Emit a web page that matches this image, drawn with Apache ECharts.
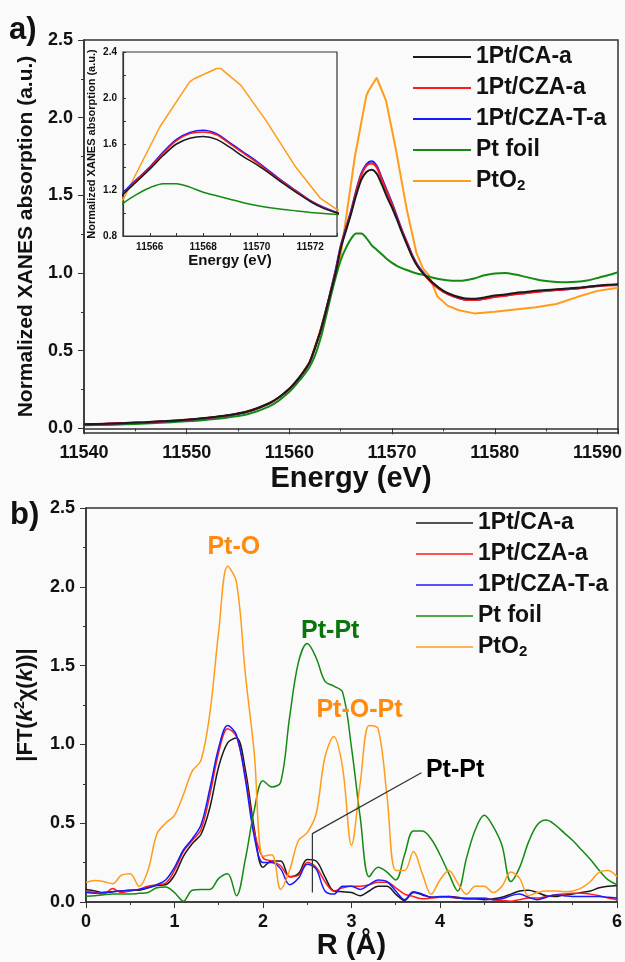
<!DOCTYPE html>
<html>
<head>
<meta charset="utf-8">
<script src="https://cdn.jsdelivr.net/npm/echarts@6/dist/echarts.min.js"></script>
<style>
    html, body {
        margin: 0;
        padding: 0;
        background: #fafafa;
    }
    #chart {
        width: 625px;
        height: 962px;
    }
</style>
</head>
<body>
<div id="chart"></div>
<script>
// ---- a) XANES ----
const names = ['1Pt/CA-a', '1Pt/CZA-a', '1Pt/CZA-T-a', 'Pt foil', 'PtO2'];
const colors = ['#1a1a1a', '#ff1a1a', '#1a1aff', '#148a14', '#ff9c1a'];

const energy = [11540, 11542, 11544, 11546, 11548, 11550, 11552, 11554, 11556, 11558, 11559,
    11560, 11560.5, 11561, 11561.5, 11562, 11562.5, 11563, 11563.5, 11564, 11564.5,
    11565, 11565.5, 11566, 11566.5, 11567, 11567.5, 11568, 11568.5, 11569, 11569.5,
    11570, 11570.5, 11571, 11571.5, 11572, 11572.5, 11573,
    11574, 11575, 11576, 11577, 11578, 11579, 11580, 11581, 11582, 11583, 11584,
    11585, 11586, 11587, 11588, 11589, 11590, 11591, 11592];

const xanesCA = [0.026, 0.03, 0.034, 0.04, 0.047, 0.056, 0.068, 0.084, 0.11, 0.16, 0.2,
    0.255, 0.29, 0.33, 0.375, 0.43, 0.52, 0.62, 0.74, 0.87, 1.0,
    1.16, 1.27, 1.38, 1.50, 1.60, 1.65, 1.665, 1.64, 1.57, 1.49,
    1.42, 1.34, 1.255, 1.175, 1.10, 1.04, 1.0,
    0.935, 0.885, 0.855, 0.838, 0.835, 0.843, 0.855, 0.862, 0.872, 0.878, 0.885,
    0.89, 0.895, 0.9, 0.905, 0.912, 0.918, 0.924, 0.928];
const xanesCZA = [0.025, 0.029, 0.034, 0.039, 0.046, 0.055, 0.067, 0.083, 0.109, 0.16, 0.2,
    0.255, 0.29, 0.33, 0.375, 0.43, 0.52, 0.62, 0.74, 0.875, 1.01,
    1.165, 1.28, 1.39, 1.52, 1.63, 1.69, 1.705, 1.68, 1.60, 1.52,
    1.44, 1.35, 1.265, 1.185, 1.105, 1.045, 1.0,
    0.928, 0.878, 0.848, 0.83, 0.826, 0.833, 0.845, 0.853, 0.863, 0.87, 0.878,
    0.884, 0.89, 0.895, 0.9, 0.908, 0.915, 0.92, 0.923];
const xanesCZAT = [0.025, 0.028, 0.033, 0.038, 0.045, 0.054, 0.066, 0.082, 0.108, 0.16, 0.2,
    0.255, 0.29, 0.33, 0.375, 0.43, 0.52, 0.62, 0.745, 0.88, 1.02,
    1.175, 1.29, 1.40, 1.53, 1.64, 1.70, 1.72, 1.69, 1.61, 1.53,
    1.45, 1.36, 1.27, 1.19, 1.11, 1.05, 1.005,
    0.93, 0.88, 0.85, 0.83, 0.826, 0.835, 0.848, 0.855, 0.865, 0.872, 0.88,
    0.886, 0.89, 0.895, 0.9, 0.91, 0.918, 0.922, 0.925];
const xanesFoil = [0.02, 0.022, 0.026, 0.031, 0.037, 0.045, 0.056, 0.07, 0.092, 0.14, 0.18,
    0.235, 0.27, 0.31, 0.35, 0.40, 0.47, 0.57, 0.70, 0.84, 0.97,
    1.083, 1.16, 1.22, 1.255, 1.255, 1.225, 1.18, 1.15, 1.12, 1.09,
    1.065, 1.045, 1.03, 1.018, 1.005, 0.995, 0.988,
    0.97, 0.957, 0.95, 0.952, 0.965, 0.985, 0.997, 1.0, 0.99, 0.975, 0.96,
    0.948, 0.942, 0.94, 0.943, 0.952, 0.968, 0.985, 1.005];

// PtO2 is sampled more coarsely (polyline look)
const energyPtO2 = [11540, 11545, 11550, 11553, 11555, 11557, 11558, 11559, 11560, 11561,
    11562, 11563, 11564, 11565, 11566.38, 11567.49, 11567.68, 11568.5, 11568.65, 11569.41,
    11570.33, 11571.44, 11572.37, 11573, 11573.6, 11574.4, 11575.4, 11576.5, 11578, 11580,
    11582, 11584, 11586, 11588, 11590, 11592];
const xanesPtO2 = [0.025, 0.034, 0.054, 0.072, 0.095, 0.13, 0.16, 0.2, 0.255, 0.33,
    0.43, 0.63, 0.87, 1.117, 1.75, 2.14, 2.17, 2.257, 2.257, 2.11,
    1.81, 1.405, 1.13, 1.03, 0.985, 0.85, 0.79, 0.76, 0.74, 0.75,
    0.765, 0.78, 0.8, 0.845, 0.885, 0.905];

// ---- b) FT-EXAFS ----
const rValues = [0, 0.1, 0.2, 0.3, 0.4, 0.5, 0.6, 0.7, 0.8, 0.9, 1.0, 1.1, 1.2, 1.3, 1.4, 1.5,
    1.6, 1.7, 1.8, 1.9, 2.0, 2.1, 2.2, 2.3, 2.4, 2.5, 2.6, 2.7, 2.8, 2.9, 3.0, 3.1, 3.2,
    3.3, 3.4, 3.5, 3.6, 3.7, 3.8, 3.9, 4.0, 4.1, 4.2, 4.3, 4.4, 4.5, 4.6, 4.7, 4.8, 4.9,
    5.0, 5.1, 5.2, 5.3, 5.4, 5.5, 5.6, 5.7, 5.8, 5.9, 6.0];

const ftCA = [0.08, 0.07, 0.06, 0.065, 0.07, 0.075, 0.075, 0.09, 0.105, 0.11, 0.17, 0.29,
    0.37, 0.43, 0.6, 0.86, 1.01, 1.04, 0.84, 0.47, 0.22, 0.26, 0.26, 0.16, 0.18, 0.27,
    0.26, 0.16, 0.07, 0.065, 0.06, 0.04, 0.07, 0.1, 0.1, 0.05, 0.01, 0.06, 0.045, 0.03,
    0.03, 0.035, 0.03, 0.02, 0.02, 0.015, 0.02, 0.03, 0.05, 0.07, 0.075, 0.06, 0.04,
    0.035, 0.045, 0.05, 0.06, 0.07, 0.09, 0.1, 0.105];
const ftCZA = [0.07, 0.06, 0.05, 0.085, 0.06, 0.07, 0.08, 0.1, 0.11, 0.12, 0.2, 0.32,
    0.39, 0.46, 0.68, 0.95, 1.1, 1.05, 0.8, 0.45, 0.28, 0.26, 0.23, 0.16, 0.17, 0.25,
    0.22, 0.13, 0.07, 0.09, 0.1, 0.1, 0.11, 0.125, 0.125, 0.09, 0.05, 0.035, 0.02, 0.025,
    0.03, 0.03, 0.025, 0.025, 0.025, 0.025, 0.015, 0.01, 0.005, 0.015, 0.025, 0.025,
    0.035, 0.045, 0.05, 0.055, 0.055, 0.05, 0.04, 0.025, 0.015];
const ftCZAT = [0.06, 0.055, 0.06, 0.065, 0.07, 0.075, 0.08, 0.09, 0.11, 0.14, 0.22, 0.33,
    0.4, 0.49, 0.72, 0.98, 1.12, 1.06, 0.78, 0.42, 0.25, 0.25, 0.21, 0.11, 0.15, 0.24,
    0.21, 0.07, 0.05, 0.1, 0.1, 0.08, 0.11, 0.14, 0.13, 0.07, 0.015, 0.065, 0.05, 0.03,
    0.035, 0.035, 0.025, 0.02, 0.02, 0.02, 0.015, 0.02, 0.04, 0.05, 0.03, 0.015, 0.03,
    0.045, 0.04, 0.035, 0.035, 0.035, 0.035, 0.03, 0.025];
const ftFoil = [0.036, 0.04, 0.046, 0.05, 0.05, 0.05, 0.055, 0.06, 0.09, 0.095, 0.06, 0.005,
    0.075, 0.08, 0.08, 0.15, 0.18, 0.04, 0.27, 0.58, 0.77, 0.73, 0.76, 1.17, 1.52, 1.64,
    1.55, 1.4, 1.37, 1.33, 0.98, 0.53, 0.16, 0.22, 0.19, 0.14, 0.3, 0.45, 0.45, 0.4,
    0.3, 0.18, 0.07, 0.28, 0.46, 0.55, 0.48, 0.36, 0.13, 0.22, 0.38, 0.49, 0.52, 0.49,
    0.44, 0.39, 0.33, 0.27, 0.2, 0.14, 0.11];
const ftPtO2 = [0.125, 0.137, 0.13, 0.116, 0.17, 0.18, 0.1, 0.2, 0.43, 0.5, 0.55, 0.68,
    0.83, 0.9, 1.2, 1.72, 2.13, 2.03, 1.45, 0.95, 0.29, 0.3, 0.08, 0.2, 0.39, 0.44, 0.56,
    0.92, 1.05, 0.85, 0.36, 0.76, 1.12, 1.1, 0.68, 0.2, 0.2, 0.32, 0.18, 0.05, 0.14, 0.2,
    0.12, 0.05, 0.1, 0.1, 0.06, 0.1, 0.19, 0.15, 0.04, 0.06, 0.07, 0.07, 0.065, 0.07,
    0.09, 0.13, 0.19, 0.2, 0.16];

// peak labels [text, R, value, colour]
const peakLabels = [
    ['Pt-O', 1.67, 2.25, '#ff8a10'],
    ['Pt-Pt', 2.76, 1.72, '#0a750a'],
    ['Pt-O-Pt', 3.09, 1.215, '#ff8a10'],
    ['Pt-Pt', 4.17, 0.84, '#000']
];
const leaderLine = [[3.79, 0.82], [2.558, 0.434], [2.558, 0.061]];

const FONT = '"Liberation Sans", Arial, sans-serif';
const xanesSets = [xanesCA, xanesCZA, xanesCZAT, xanesFoil, xanesPtO2];
const ftSets = [ftCA, ftCZA, ftCZAT, ftFoil, ftPtO2];

function pairs(xs, ys) {
    return xs.map((x, i) => [x, ys[i]]);
}

const series = [];
names.forEach((n, i) => {
    const xs = i === 4 ? energyPtO2 : energy;
    const base = {
        name: n,
        type: 'line',
        symbol: 'none',
        smooth: i === 4 ? false : 0.3,
        lineStyle: { color: colors[i], width: 2 },
        itemStyle: { color: colors[i] },
        data: pairs(xs, xanesSets[i]),
        z: i === 4 ? 3 : 4 - i * 0.1
    };
    series.push(Object.assign({}, base, { xAxisIndex: 0, yAxisIndex: 0 }));
    series.push(Object.assign({}, base, { xAxisIndex: 1, yAxisIndex: 2, lineStyle: { color: colors[i], width: 1.5 } }));
    series.push({
        name: n,
        type: 'line',
        symbol: 'none',
        smooth: 0.35,
        xAxisIndex: 2,
        yAxisIndex: 3,
        lineStyle: { color: colors[i], width: 1.5 },
        itemStyle: { color: colors[i] },
        data: pairs(rValues, ftSets[i])
    });
});
series.push({
    name: 'leader',
    type: 'line',
    symbol: 'none',
    xAxisIndex: 2,
    yAxisIndex: 3,
    lineStyle: { color: '#333', width: 1.2 },
    data: leaderLine,
    z: 5
});
peakLabels.forEach(p => {
    series.push({
        name: 'label',
        type: 'scatter',
        xAxisIndex: 2,
        yAxisIndex: 3,
        symbolSize: 0,
        itemStyle: { color: 'transparent', opacity: 1 },
        data: [[p[1], p[2]]],
        label: {
            show: true,
            position: 'inside',
            formatter: p[0],
            color: p[3],
            opacity: 1,
            fontSize: 25,
            fontWeight: 'bold',
            fontFamily: FONT,
            textBorderWidth: 0
        },
        z: 6
    });
});

const tickLabel = { fontSize: 18, fontWeight: 'bold', color: '#111', fontFamily: FONT };
const axisLineStyle = { lineStyle: { color: '#333', width: 1.5 } };

const legendText = {
    fontSize: 23,
    fontWeight: 'bold',
    color: '#111',
    fontFamily: FONT,
    lineHeight: 24,
    rich: {
        sub: { fontSize: 15, fontWeight: 'bold', fontFamily: FONT, color: '#111', verticalAlign: 'bottom', lineHeight: 14 }
    }
};
const legendFmt = n => (n === 'PtO2' ? 'PtO{sub|2}' : n);

function legendData() {
    return names.map((n, i) => ({ name: n, icon: 'rect', itemStyle: { color: colors[i] } }));
}

const chart = echarts.init(document.getElementById('chart'));
chart.setOption({
    animation: false,
    backgroundColor: '#fafafa',
    textStyle: { fontFamily: FONT },
    graphic: [
        { type: 'text', left: 9, top: 15, style: { text: 'a)', fontSize: 31, fontWeight: 'bold', fill: '#111', fontFamily: FONT } },
        { type: 'text', left: 10, top: 500, style: { text: 'b)', fontSize: 31, fontWeight: 'bold', fill: '#111', fontFamily: FONT } }
    ],
    legend: [
        {
            data: legendData(),
            orient: 'vertical',
            left: 408,
            top: 40,
            itemWidth: 58,
            itemHeight: 2,
            itemGap: 7,
            formatter: legendFmt,
            textStyle: legendText
        },
        {
            data: legendData(),
            orient: 'vertical',
            left: 411,
            top: 506,
            itemWidth: 57,
            itemHeight: 1.5,
            itemGap: 7,
            formatter: legendFmt,
            textStyle: legendText
        }
    ],
    grid: [
        { left: 84, right: 6, top: 40, height: 393, show: true, borderColor: '#333', borderWidth: 1.5, backgroundColor: 'transparent' },
        { left: 123, top: 52, width: 214, height: 184, show: true, borderColor: '#333', borderWidth: 1.2, backgroundColor: '#fafafa', z: 3 },
        { left: 86, right: 6, top: 508, height: 394, show: true, borderColor: '#333', borderWidth: 1.5, backgroundColor: 'transparent' }
    ],
    xAxis: [
        {
            gridIndex: 0,
            type: 'value',
            min: 11540,
            max: 11592,
            interval: 10,
            name: 'Energy (eV)',
            nameLocation: 'middle',
            nameGap: 31,
            nameTextStyle: { fontSize: 29, fontWeight: 'bold', color: '#111', fontFamily: FONT },
            axisLine: axisLineStyle,
            axisTick: { length: 6, lineStyle: { color: '#333' } },
            minorTick: { show: true, splitNumber: 2, length: 3, lineStyle: { color: '#333' } },
            axisLabel: Object.assign({ margin: 11, showMaxLabel: false, formatter: v => String(v) }, tickLabel),
            splitLine: { show: false }
        },
        {
            gridIndex: 1,
            type: 'value',
            min: 11565,
            max: 11573,
            interval: 1,
            name: 'Energy (eV)',
            nameLocation: 'middle',
            nameGap: 14,
            nameTextStyle: { fontSize: 15, fontWeight: 'bold', color: '#111', fontFamily: FONT },
            axisLine: { lineStyle: { color: '#333', width: 1.2 } },
            axisTick: { inside: true, length: 3, lineStyle: { color: '#333' } },
            axisLabel: {
                margin: 6,
                fontSize: 10,
                fontWeight: 'bold',
                color: '#111',
                fontFamily: FONT,
                formatter: v => (v % 2 === 0 ? String(v) : '')
            },
            splitLine: { show: false },
            z: 3
        },
        {
            gridIndex: 2,
            type: 'value',
            min: 0,
            max: 6,
            interval: 1,
            name: 'R (Å)',
            nameLocation: 'middle',
            nameGap: 28,
            nameTextStyle: { fontSize: 29, fontWeight: 'bold', color: '#111', fontFamily: FONT },
            axisLine: axisLineStyle,
            axisTick: { length: 6, lineStyle: { color: '#333' } },
            minorTick: { show: true, splitNumber: 2, length: 3, lineStyle: { color: '#333' } },
            axisLabel: Object.assign({ margin: 11 }, tickLabel),
            splitLine: { show: false }
        }
    ],
    yAxis: [
        {
            gridIndex: 0,
            type: 'value',
            position: 'left',
            min: -0.03,
            max: 2.5,
            name: 'Normalized XANES absorption (a.u.)',
            nameLocation: 'middle',
            nameGap: 43,
            nameTextStyle: { fontSize: 21, fontWeight: 'bold', color: '#111', fontFamily: FONT },
            axisLine: axisLineStyle,
            axisTick: { length: 6, customValues: [0, 0.5, 1, 1.5, 2, 2.5], lineStyle: { color: '#333' } },
            axisLabel: Object.assign({
                margin: 11,
                customValues: [0, 0.5, 1, 1.5, 2, 2.5],
                formatter: v => v.toFixed(1)
            }, tickLabel),
            splitLine: { show: false }
        },
        {
            gridIndex: 0,
            type: 'value',
            position: 'left',
            min: -0.03,
            max: 2.5,
            axisLine: { show: false },
            axisTick: { length: 3, customValues: [0.25, 0.75, 1.25, 1.75, 2.25], lineStyle: { color: '#333' } },
            axisLabel: { show: false },
            splitLine: { show: false }
        },
        {
            gridIndex: 1,
            type: 'value',
            min: 0.8,
            max: 2.4,
            interval: 0.2,
            name: 'Normalized XANES absorption (a.u.)',
            nameLocation: 'middle',
            nameGap: 26,
            nameTextStyle: { fontSize: 11, fontWeight: 'bold', color: '#111', fontFamily: FONT },
            axisLine: { lineStyle: { color: '#333', width: 1.2 } },
            axisTick: { inside: true, length: 3, lineStyle: { color: '#333' } },
            axisLabel: {
                margin: 6,
                fontSize: 10,
                fontWeight: 'bold',
                color: '#111',
                fontFamily: FONT,
                formatter: v => (Math.round(v * 10) % 4 === 0 ? v.toFixed(1) : '')
            },
            splitLine: { show: false },
            z: 3
        },
        {
            gridIndex: 2,
            type: 'value',
            min: 0,
            max: 2.5,
            interval: 0.5,
            name: '|FT({i|k}{sup|2}χ({i|k}))|',
            nameLocation: 'middle',
            nameGap: 41,
            nameTextStyle: {
                fontSize: 22,
                fontWeight: 'bold',
                color: '#111',
                fontFamily: FONT,
                lineHeight: 26,
                rich: {
                    i: { fontSize: 22, fontWeight: 'bold', fontStyle: 'italic', color: '#111', fontFamily: FONT, lineHeight: 26 },
                    sup: { fontSize: 14, fontWeight: 'bold', color: '#111', fontFamily: FONT, verticalAlign: 'top', lineHeight: 14 }
                }
            },
            axisLine: axisLineStyle,
            axisTick: { length: 6, lineStyle: { color: '#333' } },
            minorTick: { show: true, splitNumber: 2, length: 3, lineStyle: { color: '#333' } },
            axisLabel: Object.assign({ margin: 11, formatter: v => v.toFixed(1) }, tickLabel),
            splitLine: { show: false }
        }
    ],
    series: series
});
</script>
</body>
</html>
